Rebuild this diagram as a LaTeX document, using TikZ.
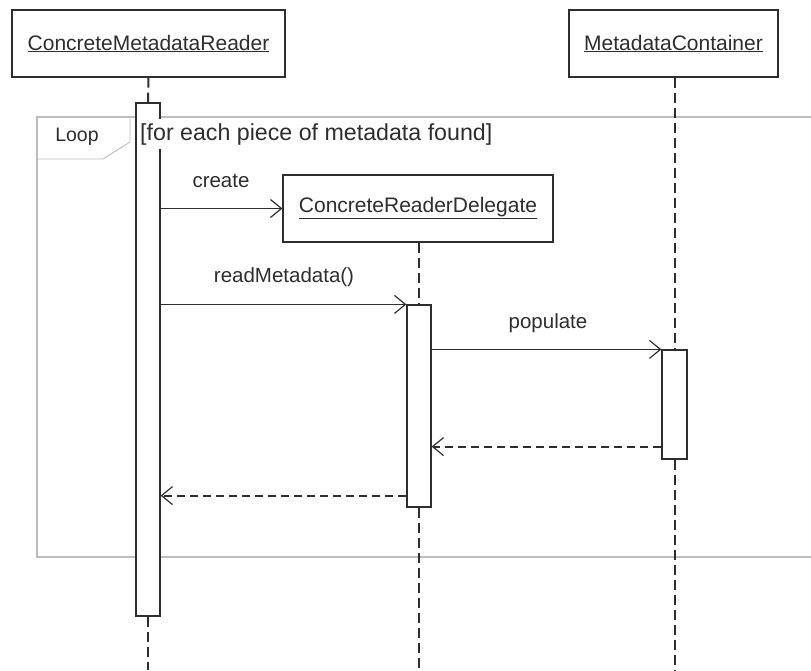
\documentclass[tikz,border=0pt]{standalone}
\usepackage{fontspec}
\setmainfont{Liberation Sans}
\usetikzlibrary{arrows.meta}
\definecolor{ink}{HTML}{2E2E2E}
\definecolor{framegray}{HTML}{BDBDBD}
\tikzset{
  objbox/.style={draw=ink, line width=1.2pt, fill=white, text=ink, inner sep=0pt, font=\fontsize{21}{25}\selectfont},
  actbar/.style={draw=ink, line width=1.2pt, fill=white, minimum width=24pt, inner sep=0pt},
  lifeline/.style={draw=ink, line width=2pt, dash pattern=on 10pt off 5pt},
  msg/.style={draw=ink, line width=1.2pt, -{Straight Barb[length=11pt,width=18pt,line width=1.2pt]}},
  retmsg/.style={draw=ink, line width=1.8pt, dash pattern=on 8pt off 5pt, -{Straight Barb[length=11pt,width=18pt,line width=1.2pt]}},
  msglabel/.style={text=ink, font=\fontsize{20.5}{24}\selectfont, inner sep=0pt},
  framebox/.style={draw=framegray, line width=1.2pt},
}
\begin{document}
\begin{tikzpicture}[x=1pt,y=-1pt]
\useasboundingbox (0,0) rectangle (811,670);
% loop frame
\draw[framebox] (811,117) -- (37,117) -- (37,557) -- (811,557);
\draw[framebox, line width=0.9pt] (130,117) -- (130,142) -- (103,159) -- (37,159);
\node[text=ink, font=\fontsize{19.5}{23}\selectfont, inner sep=0pt] (looplbl) at (77,137) {Loop};
% objects
\node[objbox, minimum width=273pt, minimum height=67pt] (cmr) at (148.5,43.5) {\underline{ConcreteMetadataReader}};
\node[objbox, minimum width=209pt, minimum height=67pt] (mc) at (673.5,43.5) {\underline{MetadataContainer}};
\node[objbox, minimum width=270pt, minimum height=67pt] (crd) at (418,208.5) {\underline{ConcreteReaderDelegate}};
% activation bars
\node[actbar, minimum height=513pt] (bar1) at (148,359.5) {};
\node[actbar, minimum height=202pt] (bar2) at (419,406) {};
\node[actbar, minimum width=25pt, minimum height=109pt] (bar3) at (674.5,404.5) {};
% lifeline ends
\coordinate (end1) at (148,670);
\coordinate (end2) at (419,670);
\coordinate (end3) at (674.5,670);
\draw[lifeline] (cmr.south) -- (bar1.north);
\draw[lifeline] (bar1.south) -- (end1);
\draw[lifeline] (crd.south -| bar2.north) -- (bar2.north);
\draw[lifeline] (bar2.south) -- (end2);
\draw[lifeline] (mc.south -| bar3.north) -- (bar3.north);
\draw[lifeline] (bar3.south) -- (end3);
% guard text (covers the bar)
\node[fill=white, text=ink, font=\fontsize{23.2}{27}\selectfont, inner xsep=1.5pt, inner ysep=4pt, anchor=west] (guard) at (138.5,134) {[for each piece of metadata found]};
% messages
\draw[msg] (bar1.east |- crd.west) -- (crd.west);
\node[msglabel] (lcreate) at (221,181) {create};
\draw[msg] (bar1.east |- bar2.north west) -- (bar2.north west);
\node[msglabel] (lread) at (284,277) {readMetadata()};
\draw[msg] (bar2.east |- bar3.north west) -- (bar3.north west);
\node[msglabel] (lpop) at (548,323) {populate};
\coordinate (r1) at ([yshift=13pt]bar3.south west);
\draw[retmsg] (r1) -- (bar2.east |- r1);
\coordinate (r2) at ([yshift=12pt]bar2.south west);
\draw[retmsg] (r2) -- (bar1.east |- r2);
\end{tikzpicture}
\end{document}
